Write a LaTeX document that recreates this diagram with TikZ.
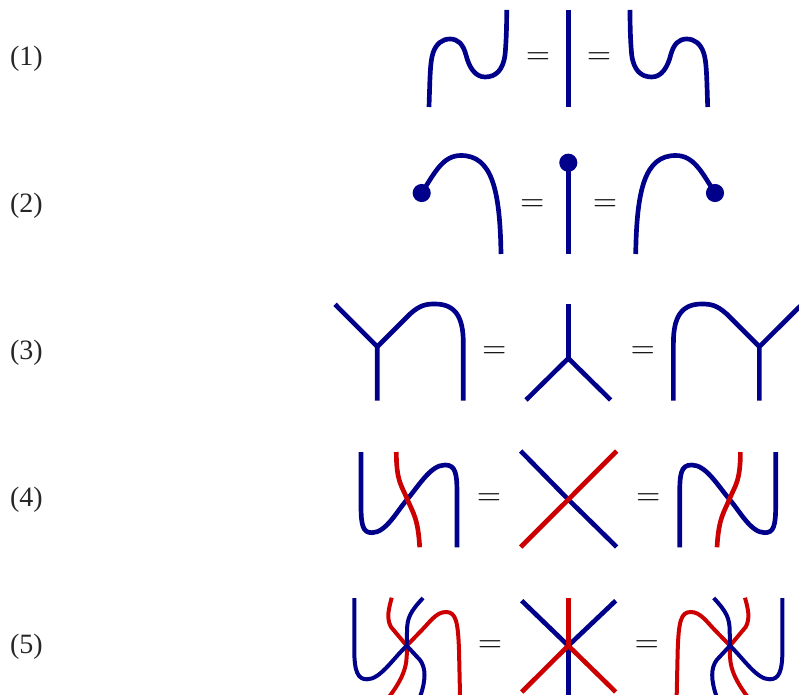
\documentclass[tikz,border=0pt]{standalone}
\usepackage{fontspec}
\setmainfont{Liberation Serif}
\definecolor{strandblue}{RGB}{0,0,139}
\definecolor{strandred}{RGB}{204,0,0}
\tikzset{
    bluestrand/.style={draw=strandblue, line width=3.5pt},
    redstrand/.style={draw=strandred, line width=3.5pt},
    thinstrand/.style={line width=3pt},
    eqlabel/.style={inner sep=0pt, font=\fontsize{24}{24}\selectfont},
    rowlabel/.style={inner sep=0pt, font=\fontsize{21}{21}\selectfont, text=black!85},
    counit/.style={circle, fill=strandblue, inner sep=0pt, minimum size=13.6pt}
}

\begin{document}
\begin{tikzpicture}[x=0.75pt, y=-0.75pt]
    \useasboundingbox (0, 0) rectangle (799, 695);

    % row labels
    \node[rowlabel] (lbl1) at (26.5, 59) {(1)};
    \node[rowlabel] (lbl2) at (26.5, 206) {(2)};
    \node[rowlabel] (lbl3) at (26.5, 353) {(3)};
    \node[rowlabel] (lbl4) at (26.5, 500) {(4)};
    \node[rowlabel] (lbl5) at (26.5, 647) {(5)};

    % equals signs
    \node[eqlabel] (eq1l) at (538, 59) {$=$};
    \node[eqlabel] (eq1r) at (599, 59) {$=$};
    \node[eqlabel] (eq2l) at (532.3, 206) {$=$};
    \node[eqlabel] (eq2r) at (605, 206) {$=$};
    \node[eqlabel] (eq3l) at (494.3, 353) {$=$};
    \node[eqlabel] (eq3r) at (642.7, 353) {$=$};
    \node[eqlabel] (eq4l) at (489, 500) {$=$};
    \node[eqlabel] (eq4r) at (648.3, 500) {$=$};
    \node[eqlabel] (eq5l) at (490, 647) {$=$};
    \node[eqlabel] (eq5r) at (646.7, 647) {$=$};

    % (1)
    \draw[bluestrand] (429, 107) .. controls (430, 78) and (430, 62) .. (433, 53)
        .. controls (436, 44) and (442, 39) .. (450, 39)
        .. controls (458, 39) and (463, 44) .. (466, 55)
        .. controls (469, 67) and (475, 77) .. (485, 77)
        .. controls (496, 77) and (503, 70) .. (505, 55)
        .. controls (506, 45) and (506.7, 30) .. (506.7, 10);
    \draw[bluestrand] (568.3, 10) -- (568.3, 107);
    \draw[bluestrand] (630, 10) .. controls (630, 30) and (630.7, 45) .. (631.7, 55)
        .. controls (633.7, 70) and (640.7, 77) .. (651.7, 77)
        .. controls (661.7, 77) and (667.7, 67) .. (670.7, 55)
        .. controls (673.7, 44) and (678.7, 39) .. (686.7, 39)
        .. controls (694.7, 39) and (700.7, 44) .. (703.7, 53)
        .. controls (706.7, 62) and (706.7, 78) .. (707.7, 107);

    % (2)
    \node[counit] (dot2a) at (421.7, 193) {};
    \node[counit] (dot2b) at (568.3, 162.7) {};
    \node[counit] (dot2c) at (715, 193) {};
    \draw[bluestrand] (dot2a.center) .. controls (435, 172) and (443, 155.5) .. (461, 155.5)
        .. controls (492, 155.5) and (500, 190) .. (501, 254);
    \draw[bluestrand] (dot2b.center) -- (568.3, 254);
    \draw[bluestrand] (635.7, 254) .. controls (636.7, 190) and (644.7, 155.5) .. (675.7, 155.5)
        .. controls (693.7, 155.5) and (701.7, 172) .. (dot2c.center);

    % (3)
    \coordinate (y3a) at (377.3, 346.7);
    \coordinate (y3b) at (568.3, 358.3);
    \coordinate (y3c) at (759.4, 346.7);
    \draw[bluestrand] (335, 304.3) -- (y3a) -- (377.3, 400.7);
    \draw[bluestrand] (y3a) -- (410, 314) .. controls (420, 305) and (426, 304) .. (435, 304)
        .. controls (456, 304) and (463.3, 318) .. (463.3, 343) -- (463.3, 400.7);
    \draw[bluestrand] (568.3, 304) -- (y3b);
    \draw[bluestrand] (526, 400) -- (y3b) -- (610.7, 400);
    \draw[bluestrand] (802, 304.3) -- (y3c) -- (759.4, 400.7);
    \draw[bluestrand] (y3c) -- (726.7, 314) .. controls (716.7, 305) and (710.7, 304) .. (701.7, 304)
        .. controls (680.7, 304) and (673.4, 318) .. (673.4, 343) -- (673.4, 400.7);

    % (4)
    \coordinate (x4a) at (407.3, 499.3);
    \coordinate (x4b) at (568.3, 499.5);
    \coordinate (x4c) at (729.4, 499.3);
    \draw[bluestrand] (361, 452) -- (361, 505) .. controls (361, 526) and (363, 532.7) .. (372, 532.7)
        .. controls (386, 532.7) and (397, 511) .. (x4a)
        .. controls (420, 484) and (431, 465) .. (445, 465)
        .. controls (456, 465) and (457, 474) .. (457, 495) -- (457, 547.3);
    \draw[redstrand] (396.3, 452) .. controls (396.3, 482) and (402, 486) .. (x4a)
        .. controls (413, 513) and (418, 518) .. (419.7, 547.3);
    \draw[bluestrand] (520.7, 451) -- (x4b) -- (616.7, 547);
    \draw[redstrand] (616.7, 451) -- (x4b) -- (520.7, 547);
    \draw[bluestrand] (775.7, 452) -- (775.7, 505) .. controls (775.7, 526) and (773.7, 532.7) .. (764.7, 532.7)
        .. controls (750.7, 532.7) and (739.7, 511) .. (x4c)
        .. controls (716.7, 484) and (705.7, 465) .. (691.7, 465)
        .. controls (680.7, 465) and (679.7, 474) .. (679.7, 495) -- (679.7, 547.3);
    \draw[redstrand] (740.4, 452) .. controls (740.4, 482) and (734.7, 486) .. (x4c)
        .. controls (723.7, 513) and (718.7, 518) .. (717, 547.3);

    % (5)
    \coordinate (v5a) at (406.7, 645.7);
    \coordinate (v5b) at (568.3, 645.7);
    \coordinate (v5c) at (730, 645.7);
    \draw[redstrand, thinstrand] (391.7, 597.7) .. controls (389, 608) and (386, 618) .. (391, 627) -- (v5a)
        -- (420, 632) .. controls (430, 622) and (436, 612) .. (446, 612)
        .. controls (456, 612) and (458, 622) .. (459, 650) -- (460, 695);
    \draw[redstrand, thinstrand] (v5a) .. controls (407, 660) and (408, 672) .. (389, 697);
    \draw[bluestrand, thinstrand] (354.3, 598) -- (354.3, 650) .. controls (354.3, 672) and (358, 679.3) .. (367, 679.3)
        .. controls (380, 679.3) and (392, 660) .. (v5a);
    \draw[bluestrand, thinstrand] (423, 598) .. controls (410, 612) and (407, 618) .. (407, 632) -- (v5a)
        -- (420, 660) .. controls (426, 668) and (426, 680) .. (420, 697);
    \draw[bluestrand] (521.7, 600.7) -- (v5b) -- (615.7, 600.7);
    \draw[bluestrand] (v5b) -- (568.3, 697);
    \draw[redstrand] (568.3, 598) -- (v5b);
    \draw[redstrand] (521.7, 692) -- (v5b) -- (615.7, 692);
    \draw[redstrand, thinstrand] (745, 597.7) .. controls (747.7, 608) and (750.7, 618) .. (745.7, 627) -- (v5c)
        -- (716.7, 632) .. controls (706.7, 622) and (700.7, 612) .. (690.7, 612)
        .. controls (680.7, 612) and (678.7, 622) .. (677.7, 650) -- (676.7, 695);
    \draw[redstrand, thinstrand] (v5c) .. controls (729.7, 660) and (728.7, 672) .. (747.7, 697);
    \draw[bluestrand, thinstrand] (782.4, 598) -- (782.4, 650) .. controls (782.4, 672) and (778.7, 679.3) .. (769.7, 679.3)
        .. controls (756.7, 679.3) and (744.7, 660) .. (v5c);
    \draw[bluestrand, thinstrand] (713.7, 598) .. controls (726.7, 612) and (729.7, 618) .. (729.7, 632) -- (v5c)
        -- (716.7, 660) .. controls (710.7, 668) and (710.7, 680) .. (716.7, 697);
\end{tikzpicture}
\end{document}
